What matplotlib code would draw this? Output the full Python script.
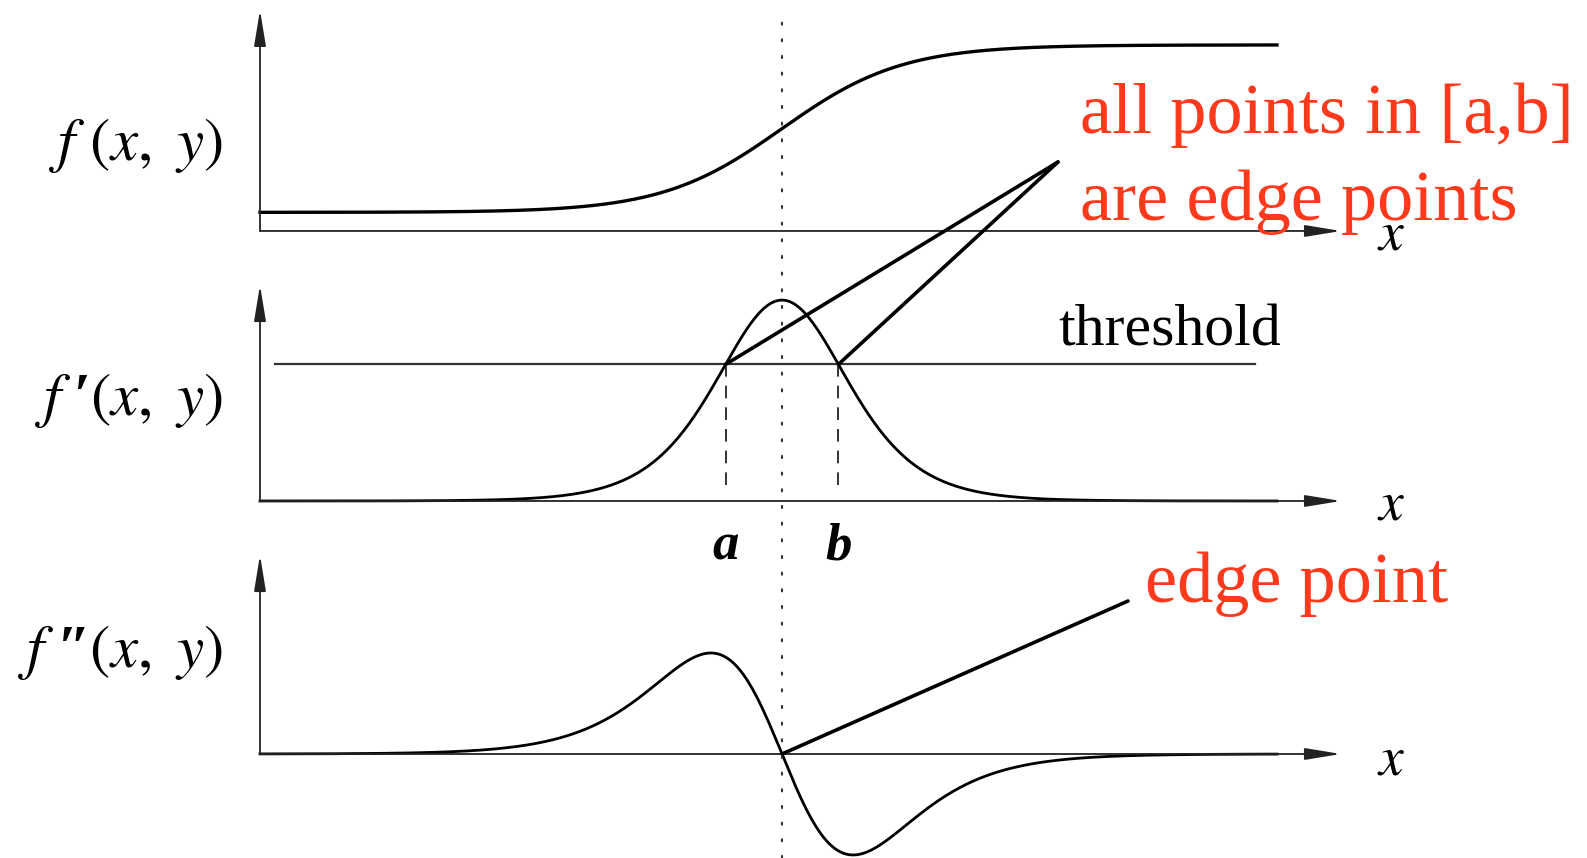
import numpy as np
import matplotlib
matplotlib.use("Agg")
import matplotlib.pyplot as plt
from matplotlib.patches import ConnectionPatch

plt.rcParams['mathtext.fontset'] = 'stix'
serif = ['Liberation Serif', 'DejaVu Serif']
plt.rcParams['font.family'] = serif

# edge profile (x in units of 100 px from the y axis)
axis_len = 10.81
edge_center = 5.22
curve_end = 10.17
f_low, f_high = 0.1, 1.0
f_width = 0.60      # step
d1_width = 0.44     # first derivative bump
d2_width = 0.54     # second derivative lobes
threshold = 0.68
threshold_span = [0.15, 9.95]

panel_labels = [r"$f\ (x,\ y)$", "$f\\;$\u2032$(x,\\ y)$", "$f\\;$\u2033$(x,\\ y)$"]
note_range = ["all points in [a,b]", "are edge points"]
note_zero = "edge point"
red = '#ff3a1c'


def sigmoid(z):
    return 1.0 / (1.0 + np.exp(-z))


x = np.linspace(0, curve_end, 800)
s0 = sigmoid((x - edge_center) / f_width)
f0 = f_low + (f_high - f_low) * s0
s1 = sigmoid((x - edge_center) / d1_width)
f1 = 4 * s1 * (1 - s1)
s2 = sigmoid((x - edge_center) / d2_width)
f2 = s2 * (1 - s2) * (1 - 2 * s2)
f2 = f2 / f2.max()

# where f' crosses the threshold
sig = (1 + np.sqrt(1 - threshold)) / 2
half = d1_width * np.log(sig / (1 - sig))
a_pos, b_pos = edge_center - half, edge_center + half

fig = plt.figure(figsize=(15.87, 8.58), dpi=100)
left, width = 260 / 1587, axis_len * 100 / 1587
ax1 = fig.add_axes([left, 0.7308, width, 0.2576])
ax2 = fig.add_axes([left, 0.4161, width, 0.2517])
ax3 = fig.add_axes([left, 0.0, width, 0.3531])
ax1.set_ylim(0, 1.188)
ax2.set_ylim(0, 1.075)
ax3.set_ylim(-1.03, 1.97)

axis_kw = dict(arrowstyle='-|>,head_length=1.1,head_width=0.18', lw=1.3,
               color='#222222', shrinkA=0, shrinkB=0, mutation_scale=20)
for ax, lab, ly in zip([ax1, ax2, ax3], panel_labels, [0.46, 0.50, 1.0]):
    ax.set_xlim(0, axis_len)
    ax.axis('off')
    ax.patch.set_alpha(0)
    top = ax.get_ylim()[1]
    ax.annotate('', xy=(axis_len, 0), xytext=(0, 0), arrowprops=axis_kw,
                annotation_clip=False)
    ax.annotate('', xy=(0, top), xytext=(0, 0), arrowprops=axis_kw,
                annotation_clip=False)
    ax.text(-0.37, ly, lab, fontsize=44, fontweight='bold', ha='right',
            va='center')
    ax.text(11.17, -0.02 * (top - ax.get_ylim()[0]), r"$x$", fontsize=40,
            ha='left', va='center')

ax1.plot(x, f0, color='black', lw=2.4, clip_on=False)
ax2.plot(x, f1, color='black', lw=2.0, clip_on=False)
ax3.plot(x, f2, color='black', lw=2.0, clip_on=False)

# threshold and interval [a, b]
ax2.plot(threshold_span, [threshold, threshold], color='#333333', lw=1.6)
ax2.text(7.98, 0.846, "threshold", fontsize=43, ha='left', va='center')
for p, lab in [(a_pos, "a"), (b_pos, "b")]:
    ax2.plot([p, p], [threshold, 0.06], color='#222222', lw=1.3,
             linestyle=(0, (7, 5)))
    ax2.text(p, -0.229, lab, fontsize=38, fontstyle='italic',
             fontweight='bold', ha='center', va='center')

# dotted line through the edge location
dot = ConnectionPatch(xyA=(edge_center, 1.12), coordsA=ax1.transData,
                      xyB=(edge_center, -1.03), coordsB=ax3.transData,
                      color='#333333', lw=1.5, linestyle=(0, (1, 7)))
fig.add_artist(dot)

# callouts
line_kw = dict(arrowstyle='-', lw=2.6, color='black', shrinkA=0, shrinkB=0)
hub = (1058 / 1587, 1 - 162 / 858)
for p in (a_pos, b_pos):
    ax2.annotate('', xy=(p, threshold), xytext=hub, textcoords='figure fraction',
                 arrowprops=line_kw, annotation_clip=False)
ax3.annotate('', xy=(edge_center, 0), xytext=(1128 / 1587, 1 - 601 / 858),
             textcoords='figure fraction', arrowprops=line_kw,
             annotation_clip=False)

fig.text(0.6805, 0.845, note_range[0], color=red, fontsize=52, va='baseline',
         family=serif)
fig.text(0.6805, 0.7436, note_range[1], color=red, fontsize=52, va='baseline',
         family=serif)
fig.text(0.7215, 0.2984, note_zero, color=red, fontsize=52, va='baseline',
         family=serif)

fig.savefig("out.png", dpi=100)
